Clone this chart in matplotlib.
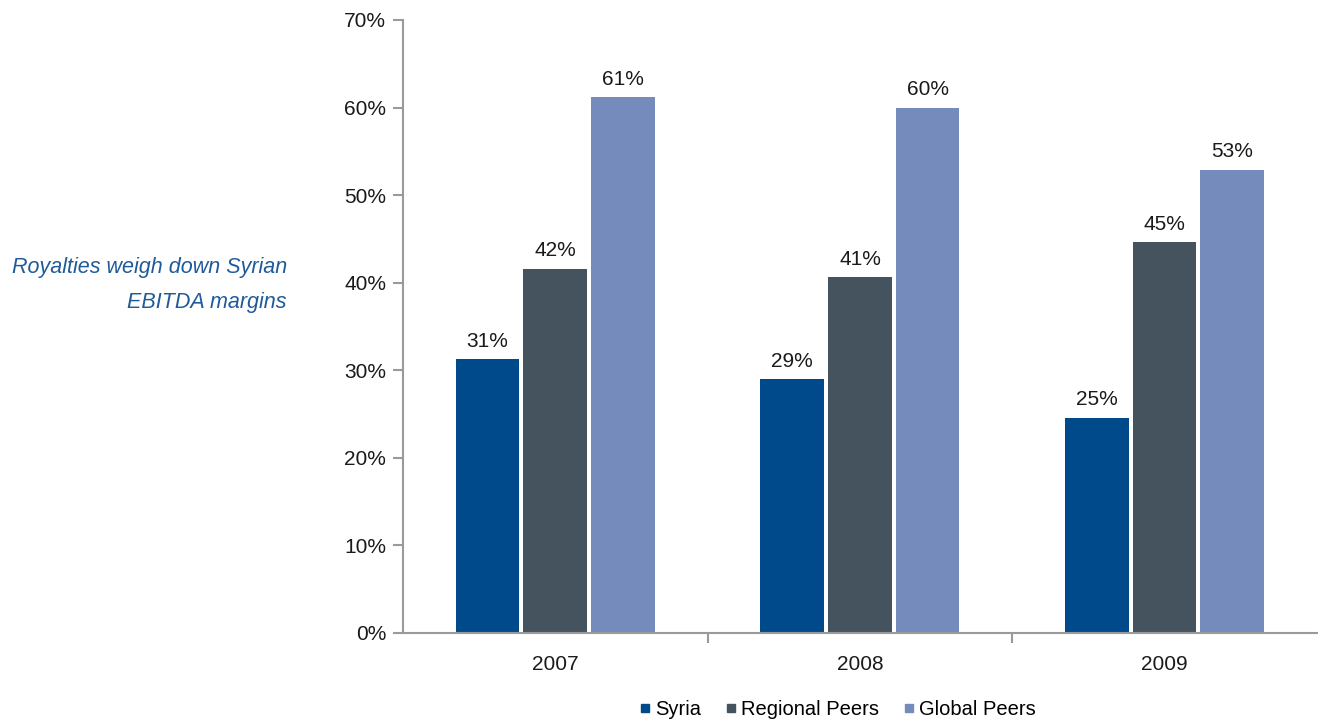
import numpy as np
import matplotlib.pyplot as plt
from matplotlib.lines import Line2D

years = ['2007', '2008', '2009']
series = ['Syria', 'Regional Peers', 'Global Peers']
syria = [31.3, 29.0, 24.6]
regional = [41.6, 40.6, 44.6]
global_peers = [61.2, 60.0, 52.9]
colors = ['#004A8C', '#45535E', '#758BBB']

plt.rcParams['font.family'] = ['Liberation Sans', 'DejaVu Sans']

fig = plt.figure(figsize=(13.22, 7.22), dpi=100)
ax = fig.add_axes([0.3048, 0.1233, 0.6914, 0.849])

x = np.arange(len(years))
width = 0.209
offset = 0.222
for i, (vals, name, c) in enumerate(zip([syria, regional, global_peers], series, colors)):
    pos = x + (i - 1) * offset
    ax.bar(pos, vals, width=width, color=c, label=name)
    for px, v in zip(pos, vals):
        ax.annotate(f'{round(v):d}%', (px, v), xytext=(0, 6), textcoords='offset points',
                    ha='center', va='bottom', fontsize=15, color='#1a1a1a')

ax.set_xlim(-0.5, 2.5)
ax.set_ylim(0, 70)
ax.set_yticks(range(0, 71, 10))
ax.set_yticklabels([f'{t}%' for t in range(0, 71, 10)])
ax.set_xticks(x)
ax.set_xticklabels(years)
ax.set_xticks([0.5, 1.5], minor=True)

for s in ['top', 'right']:
    ax.spines[s].set_visible(False)
for s in ['left', 'bottom']:
    ax.spines[s].set_color('#9a9a9a')
    ax.spines[s].set_linewidth(1.5)

ax.tick_params(axis='y', length=7, width=1.5, color='#9a9a9a', labelsize=15,
               labelcolor='#1a1a1a', pad=5)
ax.tick_params(axis='x', which='major', length=0, labelsize=15, labelcolor='#1a1a1a', pad=16)
ax.tick_params(axis='x', which='minor', length=7, width=1.5, color='#9a9a9a')

handles = [Line2D([], [], marker='s', linestyle='none', markersize=6,
                  markerfacecolor=c, markeredgecolor=c) for c in colors]
fig.legend(handles, series, loc='center', bbox_to_anchor=(0.632, 0.017), ncol=3,
           frameon=False, fontsize=14.5, handletextpad=0.0, columnspacing=1.0,
           handlelength=1.0)

fig.text(0.217, 0.605, 'Royalties weigh down Syrian\nEBITDA margins', ha='right', va='center',
         fontsize=15.5, style='italic', color='#1F5A99', linespacing=1.9)

fig.savefig('out.png', dpi=100)
